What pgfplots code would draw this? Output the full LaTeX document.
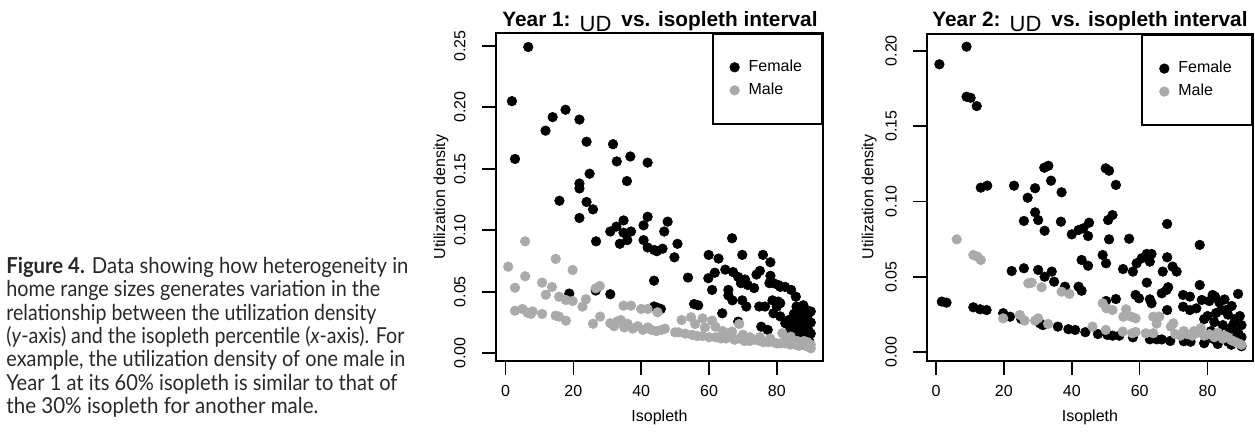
\documentclass[border=0pt]{standalone}
\usepackage{pgfplots}
\pgfplotsset{compat=1.18}
\usepackage{graphicx}
\usepackage{fontspec}
\setmainfont{Liberation Sans}
\newfontfamily\capfont{Lato}
\definecolor{malegray}{RGB}{170,170,170}
\definecolor{captext}{RGB}{40,40,40}
\newcommand{\capline}[3]{\node at (3pt,#1) {\resizebox{#2}{\height}{#3}};}
\begin{document}
\begin{tikzpicture}
\path[use as bounding box] (0,0) rectangle (627.5pt,217.5pt);
\pgfplotsset{
  udstyle/.style={
    scale only axis, anchor=south west,
    axis line style={line width=1pt},
    tick pos=left, tick align=outside, major tick length=7pt,
    tick style={line width=0.8pt, black},
    xtick={0,20,40,60,80},
    /pgf/number format/assume math mode=true,
    tick label style={font=\fontsize{8}{9.6}\selectfont},
    xticklabel style={anchor=north, inner sep=0pt, yshift=-5pt},
    yticklabel shift=8pt,
    yticklabel style={rotate=90, anchor=south, inner sep=0pt,
      /pgf/number format/fixed, /pgf/number format/fixed zerofill, /pgf/number format/precision=2},
    scaled y ticks=false,
    legend style={at={(rel axis cs:1,1)}, anchor=north east, draw=black, line width=1pt,
      font=\fontsize{8}{9.6}\selectfont, inner xsep=8.5pt, inner ysep=11.5pt, row sep=1.2pt,
      nodes={inner sep=1.5pt}, cells={anchor=west}},
    legend image code/.code={\draw[#1, line width=0.3pt] plot coordinates {(2pt,0pt)}; \path (0pt,0pt) (7pt,0pt);},
    fem/.style={only marks, mark=*, mark size=2.4pt, mark options={fill=black, draw=black, line width=0.3pt}},
    mal/.style={only marks, mark=*, mark size=2.4pt, mark options={fill=malegray, draw=malegray, line width=0.3pt}},
  }
}
% ---------- Panel 1 ----------
\begin{axis}[udstyle, at={(248pt,37pt)}, width=163.5pt, height=164pt,
  xmin=-2.8, xmax=93.6, ymin=-0.0063, ymax=0.2604,
  ytick={0,0.05,0.1,0.15,0.2,0.25}]
\addplot[fem] coordinates {
(6.7,0.249)(1.9,0.205)(2.8,0.158)(17.7,0.198)(13.9,0.192)(11.8,0.181)(21.8,0.190)(23.9,0.172)
(31.7,0.170)(32.8,0.156)(36.8,0.160)(41.9,0.155)(35.8,0.140)(24.8,0.146)(21.8,0.138)(21.8,0.134)
(15.9,0.124)(23.9,0.123)(25.8,0.117)(21.8,0.110)(34.8,0.108)(41.9,0.111)(47.8,0.107)(26.7,0.091)
(30.9,0.099)(32.7,0.103)(34.8,0.098)(37.0,0.099)(33.7,0.089)(35.9,0.092)(40.7,0.104)(40.7,0.092)
(41.9,0.086)(43.8,0.084)(44.6,0.083)(46.3,0.085)(46.8,0.099)(50.7,0.089)(49.8,0.078)(43.8,0.059)
(18.8,0.0485)(26.6,0.051)(30.9,0.048)(43.8,0.038)(45.8,0.036)(44.8,0.037)(53.8,0.0615)(55.6,0.040)
(56.8,0.039)(59.9,0.080)(59.8,0.061)(60.9,0.0515)(61.7,0.0655)(62.8,0.077)(63.9,0.0325)(64.8,0.068)
(66.8,0.0935)(67.1,0.066)(65.7,0.0515)(65.7,0.047)(66.9,0.043)(68.6,0.062)(69.8,0.080)(69.4,0.057)
(69.8,0.043)(71.0,0.038)(68.6,0.0257)(70.6,0.060)(71.4,0.0555)(73.3,0.053)(74.0,0.064)(75.0,0.067)
(75.9,0.080)(74.8,0.038)(75.4,0.0216)(76.5,0.038)(77.3,0.019)(78.1,0.074)(78.1,0.063)(77.8,0.057)
(78.7,0.043)(79.0,0.057)(79.0,0.0325)(80.0,0.038)(80.4,0.0555)(80.4,0.042)(81.0,0.054)(81.0,0.0407)
(81.0,0.030)(82.4,0.054)(82.5,0.0244)(84.2,0.0515)(85.6,0.046)(85.8,0.038)(86.3,0.035)(87.8,0.039)
(88.8,0.035)(88.8,0.027)(89.1,0.020)(89.3,0.0135)(85.3,0.027)(85.3,0.0135)(86.8,0.0216)(87.5,0.030)
(88.0,0.024)(86.0,0.018)(84.0,0.020)(83.5,0.027)(87.0,0.012)(89.5,0.010)(90.0,0.016)(90.0,0.025)
(90.0,0.034)(85.0,0.032)(83.0,0.012)(87.0,0.025)(89.0,0.030)(86.0,0.029)(84.5,0.024)(88.5,0.017)
};
\addlegendentry{Female}
\addplot[mal] coordinates {
(0.8,0.0704)(5.8,0.091)(14.8,0.0767)(5.8,0.0626)(19.8,0.0677)(2.8,0.0533)(10.8,0.0574)(13.7,0.0539)
(11.9,0.0476)(15.8,0.046)(17.8,0.0433)(19.8,0.0425)(23.7,0.0439)(22.7,0.0379)(26.6,0.0528)(27.8,0.0547)
(2.8,0.0346)(5.0,0.036)(6.5,0.033)(7.5,0.032)(8.0,0.034)(10.8,0.032)(14.8,0.0306)(15.8,0.0298)
(17.8,0.0265)(25.8,0.024)(27.9,0.0298)(30.9,0.0244)(32.0,0.022)(33.0,0.026)(34.0,0.027)(35.0,0.021)
(36.0,0.024)(34.8,0.0387)(37.0,0.0387)(40.0,0.036)(41.9,0.036)(44.8,0.0333)(37.5,0.020)(39.0,0.022)
(40.5,0.019)(42.0,0.021)(43.0,0.019)(44.5,0.018)(46.0,0.019)(47.0,0.020)(50.0,0.017)(51.0,0.017)
(51.9,0.027)(53.0,0.016)(54.7,0.0293)(55.9,0.0238)(55.0,0.015)(56.5,0.014)(58.1,0.0284)(58.8,0.0211)
(58.0,0.014)(60.0,0.013)(60.9,0.0265)(61.9,0.0216)(62.0,0.013)(63.5,0.012)(65.0,0.012)(65.7,0.0163)
(66.8,0.0176)(68.9,0.0238)(67.5,0.011)(69.0,0.012)(70.5,0.010)(72.0,0.010)(73.5,0.011)(75.0,0.010)
(76.0,0.009)(77.5,0.009)(79.0,0.009)(80.0,0.008)(81.6,0.0163)(81.0,0.008)(82.5,0.008)(84.1,0.0135)
(84.0,0.007)(85.5,0.007)(86.5,0.006)(87.5,0.007)(88.5,0.006)(89.5,0.005)(90.0,0.007)(90.0,0.004)
(88.0,0.010)(86.0,0.010)(89.0,0.009)(75.0,0.013)(78.0,0.012)(72.0,0.013)(70.0,0.015)(64.0,0.018)
(83.0,0.011)
};
\addlegendentry{Male}
\end{axis}
% ---------- Panel 2 ----------
\begin{axis}[udstyle, at={(463.65pt,37.15pt)}, width=162.7pt, height=163.2pt,
  xmin=-2.56, xmax=93.3, ymin=-0.0056, ymax=0.2109,
  ytick={0,0.05,0.1,0.15,0.2}]
\addplot[fem] coordinates {
(1.0,0.191)(9.0,0.2027)(9.0,0.1695)(10.2,0.1688)(12.0,0.1633)(13.2,0.1092)(15.1,0.1105)(23.0,0.1105)
(29.2,0.1088)(27.0,0.1025)(31.9,0.1224)(33.1,0.1237)(33.9,0.1138)(37.0,0.1061)(29.2,0.0928)(50.0,0.122)
(51.0,0.1204)(53.0,0.111)(52.0,0.091)(25.9,0.0871)(30.1,0.0877)(32.0,0.0806)(36.8,0.0866)(40.0,0.0782)
(42.0,0.0811)(43.4,0.0822)(45.1,0.0859)(44.8,0.0771)(50.7,0.0877)(51.0,0.0749)(56.9,0.0753)(49.1,0.0645)
(50.1,0.059)(42.9,0.0612)(44.8,0.0574)(55.1,0.0552)(58.0,0.0535)(59.1,0.059)(60.6,0.0623)(62.1,0.0652)
(63.5,0.0652)(63.0,0.0601)(68.1,0.0851)(68.1,0.063)(69.7,0.0568)(70.9,0.0535)(66.8,0.0535)(77.7,0.0712)
(77.7,0.0446)(62.1,0.0462)(58.8,0.038)(59.8,0.0358)(63.0,0.0351)(63.5,0.0325)(66.5,0.0391)(67.9,0.0413)
(68.4,0.0431)(68.1,0.028)(53.0,0.0353)(50.1,0.034)(22.3,0.0539)(25.9,0.0557)(30.1,0.0546)(34.1,0.0535)
(32.0,0.0501)(34.8,0.0468)(38.0,0.0435)(42.0,0.0435)(42.9,0.0408)(72.8,0.038)(74.8,0.0369)(72.8,0.0302)
(74.8,0.028)(76.7,0.0291)(78.3,0.0347)(82.2,0.0369)(89.0,0.0387)(87.1,0.0307)(80.5,0.034)(81.5,0.038)
(83.5,0.033)(85.0,0.035)(84.0,0.028)(86.0,0.025)(88.0,0.022)(90.0,0.018)(80.0,0.024)(82.0,0.020)
(84.5,0.018)(86.5,0.015)(89.0,0.013)(90.0,0.010)(81.0,0.014)(83.5,0.012)(85.5,0.010)(88.0,0.009)
(79.0,0.022)(1.7,0.0336)(3.1,0.0329)(11.0,0.0298)(13.0,0.0285)(14.9,0.028)(19.8,0.0259)(21.8,0.0236)
(25.1,0.0221)(30.6,0.0192)(31.5,0.018)(35.9,0.017)(39.0,0.0153)(41.0,0.0148)(44.0,0.0133)(47.7,0.0121)
(50.5,0.0115)(52.0,0.011)(54.0,0.011)(58.0,0.0099)(63.0,0.0086)(65.0,0.0086)(66.5,0.0085)(69.0,0.0075)
(73.0,0.0073)(75.0,0.0070)(79.0,0.006)(83.0,0.0055)(87.0,0.005)(90.0,0.004)
(82.5,0.026)(85.5,0.028)(87.5,0.018)(89.5,0.024)(81.5,0.009)(86.0,0.007)(89.0,0.008)
};
\addlegendentry{Female}
\addplot[mal] coordinates {
(6.1,0.0749)(11.0,0.0645)(12.2,0.0634)(13.2,0.0612)(27.2,0.0457)(28.2,0.0462)(31.1,0.0431)(37.0,0.0402)
(39.3,0.0387)(19.8,0.0225)(24.7,0.0247)(26.1,0.021)(29.2,0.021)(30.1,0.0225)(33.0,0.0188)(46.1,0.017)
(50.0,0.0148)(49.1,0.0325)(50.2,0.0292)(52.0,0.028)(55.2,0.0236)(56.0,0.0285)(55.0,0.0137)(57.5,0.0236)
(58.8,0.0225)(57.8,0.0126)(58.8,0.0135)(61.8,0.0126)(64.0,0.0126)(64.0,0.0236)(65.8,0.0236)(65.0,0.019)
(69.2,0.017)(69.9,0.0192)(70.5,0.012)(72.0,0.011)(74.0,0.012)(75.5,0.011)(77.0,0.013)(78.0,0.016)
(79.0,0.011)(80.5,0.012)(82.0,0.010)(83.0,0.013)(84.5,0.009)(86.0,0.010)(87.0,0.008)(88.0,0.007)
(89.0,0.006)(90.0,0.005)(85.0,0.011)(73.0,0.014)(76.0,0.014)
};
\addlegendentry{Male}
\end{axis}
% ---------- titles and labels ----------
\node[anchor=base, inner sep=0pt] at (330pt,204.15pt) {\fontsize{10.4}{12}\selectfont\textbf{Year 1:}\hspace{4.5pt}\raisebox{-2.5pt}{\fontsize{11}{13}\selectfont UD}\hspace{5pt}\textbf{vs. isopleth interval}};
\node[anchor=base, inner sep=0pt] at (545pt,204.15pt) {\fontsize{10.4}{12}\selectfont\textbf{Year 2:}\hspace{4.5pt}\raisebox{-2.5pt}{\fontsize{11}{13}\selectfont UD}\hspace{5pt}\textbf{vs. isopleth interval}};
\node[anchor=base, inner sep=0pt, font=\fontsize{8}{9.6}\selectfont] at (329.75pt,6.65pt) {Isopleth};
\node[anchor=base, inner sep=0pt, font=\fontsize{8}{9.6}\selectfont] at (545pt,6.65pt) {Isopleth};
\node[rotate=90, anchor=base, inner sep=0pt, font=\fontsize{8}{9.6}\selectfont] at (222.5pt,119pt) {Utilization density};
\node[rotate=90, anchor=base, inner sep=0pt, font=\fontsize{8}{9.6}\selectfont] at (436.7pt,119pt) {Utilization density};
% ---------- caption ----------
\begin{scope}[every node/.style={anchor=base west, inner sep=0pt, text=captext, font=\capfont\fontsize{11}{12}\selectfont}]
\capline{80.85pt}{201pt}{\textbf{Figure 4.}\hspace{0.35em}Data showing how heterogeneity in}
\capline{69.15pt}{187pt}{home range sizes generates variation in the}
\capline{57.45pt}{185pt}{relationship between the utilization density}
\capline{45.75pt}{199pt}{(\textit{y}-axis) and the isopleth percentile (\textit{x}-axis). For}
\capline{34.05pt}{199.5pt}{example, the utilization density of one male in}
\capline{22.35pt}{195.5pt}{Year 1 at its 60\% isopleth is similar to that of}
\capline{10.65pt}{156pt}{the 30\% isopleth for another male.}
\end{scope}
\end{tikzpicture}
\end{document}
